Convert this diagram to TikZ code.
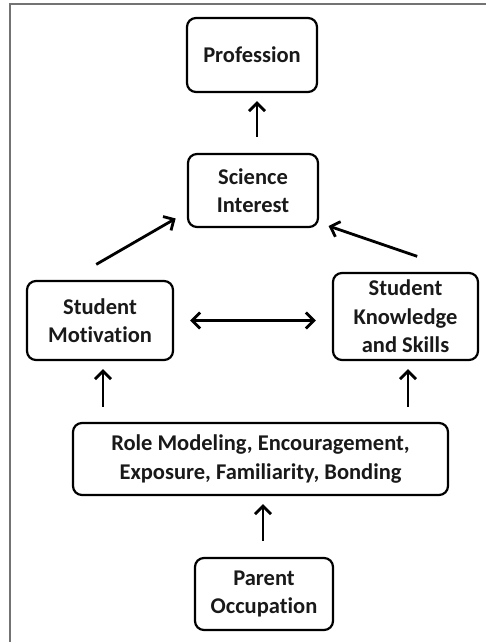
\documentclass[tikz,border=0pt]{standalone}
\usepackage{fontspec}
\setmainfont{Carlito}[Ligatures=NoCommon]
\usetikzlibrary{arrows.meta}

\begin{document}
\begin{tikzpicture}[x=1pt,y=-1pt]
    \useasboundingbox (0,0) rectangle (486,642);
    \draw[line width=2pt,draw=black!55] (9.5,642) -- (9.5,4) -- (486,4);
    \begin{scope}[every node/.style={draw,rounded corners=9pt,line width=2.2pt,
        align=center,inner sep=0pt,text=black!90,
        font=\bfseries\fontsize{22.5}{28.5}\selectfont}]
        \node[minimum width=130pt,minimum height=74pt] (prof) at (252,55) {Profession};
        \node[minimum width=130pt,minimum height=73pt] (sci) at (253,190.5) {Science\\Interest};
        \node[minimum width=146pt,minimum height=79pt] (mot) at (100,320.5) {Student\\Motivation};
        \node[minimum width=145pt,minimum height=87pt] (know) at (405.5,316.5) {Student\\Knowledge\\and Skills};
        \node[minimum width=375pt,minimum height=72pt] (role) at (260.5,459) {Role Modeling, Encouragement,\\Exposure, Familiarity, Bonding};
        \node[minimum width=138pt,minimum height=72pt] (par) at (264,594) {Parent\\Occupation};
    \end{scope}
    \begin{scope}[
        every edge/.style={-{Straight Barb[length=8pt,width=16pt]},draw=black,line width=2.8pt}]
        \path ([xshift=4pt]sci.north) edge[shorten <=16pt, shorten >=8pt] ([xshift=4pt]sci.north |- prof.south);
        \path (mot.127) edge[shorten <=31pt, shorten >=13pt] (sci.198);
        \path (know.38) edge[shorten <=48pt, shorten >=10pt] (sci.-26);
        \path (mot.east) edge[{Straight Barb[length=8pt,width=16pt]}-{Straight Barb[length=8pt,width=16pt]}, shorten <=16pt, shorten >=16pt] (mot.east -| know.west);
        \path ([xshift=3pt]mot.south |- role.north) edge[shorten <=15pt, shorten >=8pt] ([xshift=3pt]mot.south);
        \path ([xshift=2.5pt]know.south |- role.north) edge[shorten <=15pt, shorten >=8pt] ([xshift=2.5pt]know.south);
        \path ([xshift=-1pt]par.north) edge[shorten <=16pt, shorten >=8pt] ([xshift=-1pt]par.north |- role.south);
    \end{scope}
\end{tikzpicture}
\end{document}
